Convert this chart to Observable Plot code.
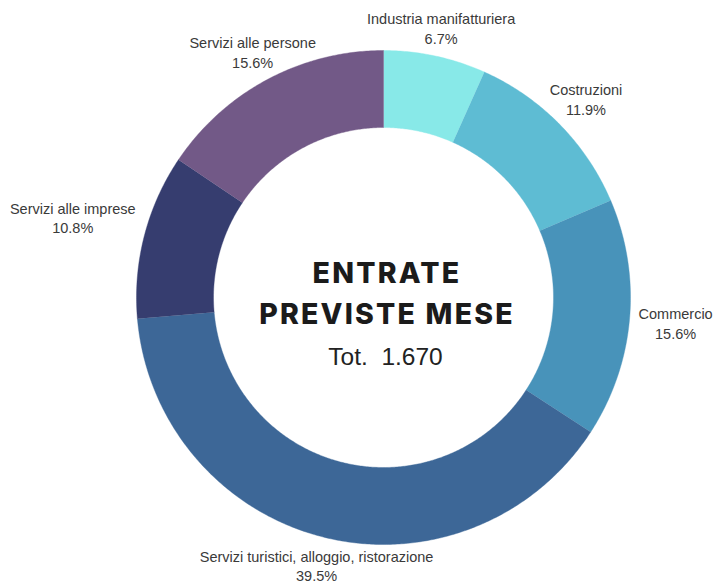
<!DOCTYPE html>
<html><head><meta charset="utf-8">
<script src="https://cdn.jsdelivr.net/npm/d3@7"></script>
<script src="https://cdn.jsdelivr.net/npm/@observablehq/plot@0.6"></script>
<style>
html,body{margin:0;padding:0;background:#fff}
#chart svg{display:block}
</style></head><body><div id="chart"></div>
<script>
// ---- data ----
const categories = ["Industria manifatturiera","Costruzioni","Commercio","Servizi turistici, alloggio, ristorazione","Servizi alle imprese","Servizi alle persone"];
const shares = [6.7, 11.9, 15.6, 39.5, 10.8, 15.6];
const colors = ["#88e9e8","#5ebcd3","#4893ba","#3d6797","#363d6f","#725987"];
const titleLines = ["ENTRATE","PREVISTE MESE"];
const totalPrefix = "Tot.";
const total = 1670;

// ---- layout ----
const W = 713, H = 585;
const cx = 383, cy = 297, Rout = 247, Rin = 170;
const labelFont = "'Liberation Sans', Arial, sans-serif";
const labelSize = 14.5, labelLH = 1.35;
const it = d3.formatLocale({decimal: ",", thousands: ".", grouping: [3], currency: ["", "€"]});
const fmtTot = it.format(",");
const fmtPct = d3.format(".1f");

const sum = d3.sum(shares);
const cum = d3.cumsum(shares);
const slices = categories.map((c, i) => {
  const a0 = (i === 0 ? 0 : cum[i - 1]) / sum * 2 * Math.PI;
  const a1 = cum[i] / sum * 2 * Math.PI;
  return {cat: c, value: shares[i], a0, a1, mid: (a0 + a1) / 2};
});

// ring polygons sampled along the arcs
const ringPts = [];
for (const s of slices) {
  const n = Math.max(2, Math.ceil((s.a1 - s.a0) / (Math.PI / 360)));
  for (let k = 0; k <= n; k++) {
    const a = s.a0 + (s.a1 - s.a0) * k / n;
    ringPts.push({cat: s.cat, x: Rout * Math.sin(a), y: -Rout * Math.cos(a)});
  }
  for (let k = n; k >= 0; k--) {
    const a = s.a0 + (s.a1 - s.a0) * k / n;
    ringPts.push({cat: s.cat, x: Rin * Math.sin(a), y: -Rin * Math.cos(a)});
  }
}

// label placement: text box touching a ray point just outside the ring
const ctx = document.createElement("canvas").getContext("2d");
ctx.font = `${labelSize}px ${labelFont}`;
const labelR = Rout + 9;
const labels = slices.map(s => {
  const pct = fmtPct(s.value) + "%";
  const w = Math.max(ctx.measureText(s.cat).width, ctx.measureText(pct).width) / 2;
  const h = labelSize * labelLH;
  const sn = Math.sin(s.mid), cs = Math.cos(s.mid);
  const d = Math.min(Math.abs(sn) > 1e-6 ? w / Math.abs(sn) : Infinity, Math.abs(cs) > 1e-6 ? h / Math.abs(cs) : Infinity);
  return {text: s.cat + "\n" + pct, x: (labelR + d) * sn, y: -(labelR + d) * cs};
});

const chart = Plot.plot({
  width: W, height: H,
  margin: 0,
  x: {domain: [-cx, W - cx], range: [0, W], axis: null},
  y: {domain: [-cy, H - cy], range: [0, H], axis: null},
  color: {domain: categories, range: colors},
  style: {background: "#fff"},
  marks: [
    Plot.line(ringPts, {x: "x", y: "y", z: "cat", fill: "cat", stroke: "cat", strokeWidth: 0.4, curve: "linear"}),
    Plot.text(labels, {x: "x", y: "y", text: "text", textAnchor: "middle", lineAnchor: "middle",
      lineHeight: labelLH, fontSize: labelSize, fontFamily: labelFont, fill: "#3a3a3a"}),
    Plot.text(titleLines, {x: () => 3.5, y: (d, i) => [-24, 17][i], text: d => d, textAnchor: "middle", lineAnchor: "middle",
      fontSize: 28.5, fontWeight: 800, fontFamily: "Inter, 'DejaVu Sans', sans-serif", fill: "#1b1b1b"}),
    Plot.text([total], {x: () => 2, y: () => 60, text: d => totalPrefix + "\u00a0 " + fmtTot(d), textAnchor: "middle", lineAnchor: "middle",
      fontSize: 24.5, fontFamily: "'Liberation Sans', Arial, sans-serif", fill: "#222"})
  ]
});
document.getElementById("chart").appendChild(chart);
chart.querySelectorAll("text").forEach(t => {
  if (titleLines.includes(t.textContent)) t.style.letterSpacing = "2.2px";
});
</script></body></html>
